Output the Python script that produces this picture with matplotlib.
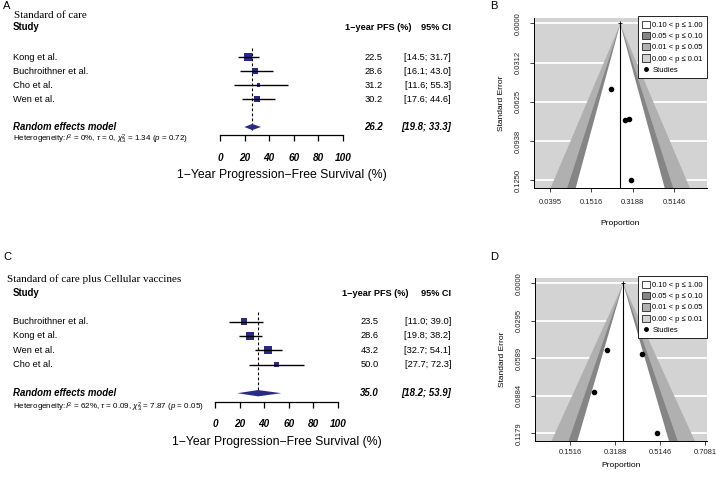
#!/usr/bin/env python
"""
Forest plots and contour-enhanced funnel plots of 1-year PFS.
"""

import numpy as np
import matplotlib
matplotlib.use("Agg")
import matplotlib.pyplot as plt
from matplotlib import transforms
from matplotlib.patches import Patch, Polygon
from matplotlib.lines import Line2D

plt.rcParams["font.family"] = ["Liberation Sans Narrow", "Liberation Sans", "DejaVu Sans"]
plt.rcParams["mathtext.fontset"] = "custom"
plt.rcParams["mathtext.rm"] = "Liberation Sans"
plt.rcParams["mathtext.it"] = "Liberation Sans:italic"
plt.rcParams["mathtext.bf"] = "Liberation Sans:bold"

# Standard of care (panels A and B)
soc_studies = ["Kong et al.", "Buchroithner et al.", "Cho et al.", "Wen et al."]
soc_pfs = [22.5, 28.6, 31.2, 30.2]
soc_lo = [14.5, 16.1, 11.6, 17.6]
soc_hi = [31.7, 43.0, 55.3, 44.6]
soc_se = [0.0525, 0.0772, 0.1250, 0.0762]
soc_pooled = [26.2, 19.8, 33.3]
soc_tau = 0.0
soc_het = r"Heterogeneity:$I^2$ = 0%, $\tau$ = 0, $\chi^2_3$ = 1.34 ($p$ = 0.72)"
soc_xticks = ["0.0395", "0.1516", "0.3188", "0.5146"]
soc_yticks = ["0.0000", "0.0312", "0.0625", "0.0938", "0.1250"]

# Standard of care plus cellular vaccines (panels C and D)
vac_studies = ["Buchroithner et al.", "Kong et al.", "Wen et al.", "Cho et al."]
vac_pfs = [23.5, 28.6, 43.2, 50.0]
vac_lo = [11.0, 19.8, 32.7, 27.7]
vac_hi = [39.0, 38.2, 54.1, 72.3]
vac_se = [0.0856, 0.0522, 0.0553, 0.1179]
vac_pooled = [35.0, 18.2, 53.9]
vac_tau = 0.09
vac_het = r"Heterogeneity:$I^2$ = 62%, $\tau$ = 0.09, $\chi^2_3$ = 7.87 ($p$ = 0.05)"
vac_xticks = ["0.1516", "0.3188", "0.5146", "0.7081"]
vac_yticks = ["0.0000", "0.0295", "0.0589", "0.0884", "0.1179"]

forest_ticks = [0, 20, 40, 60, 80, 100]
contour_z = [1.645, 1.96, 2.576]
contour_labels = ["0.10 < p ≤ 1.00", "0.05 < p ≤ 0.10", "0.01 < p ≤ 0.05", "0.00 < p ≤ 0.01"]

W, H = 716, 482
NAVY = "#2a2a86"
BAND = ["white", "#858585", "#b0b0b0", "#d3d3d3"]


def rect(left, top, right, bottom):
    return [left / W, 1 - bottom / H, (right - left) / W, (bottom - top) / H]


def ftext(fig, x, y, s, **kw):
    fig.text(x / W, 1 - y / H, s, va="center", **kw)


def forest(fig, letter, title, studies, pfs, lo, hi, se, pooled, tau, het, lay):
    row0, step = lay["row0"], lay["step"]
    top, bottom = row0 - 0.9 * step, row0 + 5.6 * step
    ax = fig.add_axes(rect(lay["x0"], top, lay["x1"], bottom))
    ax.set_xlim(0, 100)
    ax.set_ylim(5.6, -0.9)
    ax.patch.set_visible(False)
    for side in ["left", "top", "right"]:
        ax.spines[side].set_visible(False)
    ax.spines["bottom"].set_linewidth(0.9)
    ax.set_yticks([])
    ax.set_xticks(forest_ticks)
    ax.set_xticklabels([str(t) for t in forest_ticks], fontweight="bold", fontstyle="italic")
    ax.tick_params(axis="x", length=4.5, width=0.9, pad=8, labelsize=7.2)

    rows = np.arange(len(studies))
    prow = len(studies) + 1
    w = 1 / (np.array(se) ** 2 + tau ** 2)
    side = 8 * np.sqrt(w / w.max()) * 0.72

    ax.plot([pooled[0], pooled[0]], [-0.65, 5.2], color="black", lw=0.8, ls=(0, (2.5, 2)))
    ax.scatter(pfs, rows, marker="s", s=side ** 2, color=NAVY, lw=0, zorder=3)
    ax.hlines(rows, lo, hi, color="black", lw=1.0, zorder=4)
    dh = 0.22
    ax.add_patch(Polygon([[pooled[1], prow], [pooled[0], prow - dh], [pooled[2], prow],
                          [pooled[0], prow + dh]], closed=True, color=NAVY, lw=0, zorder=3))

    tr = transforms.blended_transform_factory(fig.transFigure, ax.transData)
    fs = 6.7
    for r, name, v, l, h in zip(rows, studies, pfs, lo, hi):
        fig.text(13 / W, r, name, transform=tr, va="center", fontsize=fs)
        fig.text(lay["pfs_r"] / W, r, f"{v:.1f}", transform=tr, va="center", ha="right", fontsize=fs)
        fig.text(lay["ci_r"] / W, r, f"[{l:.1f}; {h:.1f}]", transform=tr, va="center", ha="right",
                 fontsize=fs)
    bi = dict(fontweight="bold", fontstyle="italic", fontsize=6.9)
    fig.text(13 / W, prow, "Random effects model", transform=tr, va="center", **bi)
    fig.text(lay["pfs_r"] / W, prow, f"{pooled[0]:.1f}", transform=tr, va="center", ha="right", **bi)
    fig.text(lay["ci_r"] / W, prow, f"[{pooled[1]:.1f}; {pooled[2]:.1f}]", transform=tr,
             va="center", ha="right", **bi)

    ftext(fig, 3, lay["letter_y"], letter, fontsize=8)
    ftext(fig, lay["title_x"], lay["title_y"], title, fontsize=8, family="Liberation Serif")
    ftext(fig, 13, lay["head_y"], "Study", fontsize=6.9, fontweight="bold")
    ftext(fig, lay["pfs_c"], lay["head_y"], "1\u2212year PFS (%)", fontsize=6.6, fontweight="bold",
          ha="center")
    ftext(fig, lay["ci_r"], lay["head_y"], "95% CI", fontsize=6.6, fontweight="bold", ha="right")
    ftext(fig, 13, lay["het_y"], het, fontsize=5.8)
    ftext(fig, (lay["x0"] + lay["x1"]) / 2, lay["label_y"],
          "1\u2212Year Progression\u2212Free Survival (%)", fontsize=8.8, ha="center")


def funnel(fig, letter, pfs, se, pooled, xticks, yticks, xlim, box, letter_y, xpad, labpad):
    ax = fig.add_axes(rect(*box))
    x = np.arcsin(np.sqrt(np.array(pfs) / 100))
    c = np.arcsin(np.sqrt(pooled[0] / 100))
    se_max = float(yticks[-1])
    ybot = se_max * 1.05
    ax.set_xlim(xlim)
    ax.set_ylim(ybot, -se_max * 0.035)
    ax.set_facecolor(BAND[3])
    ax.set_axisbelow(True)
    ax.grid(axis="y", color="white", lw=1.3)

    yy = np.array([0, ybot])
    for z, col in zip(contour_z[::-1], BAND[2::-1]):
        ax.fill_betweenx(yy, c - z * yy, c + z * yy, color=col, lw=0, zorder=1)
    ax.plot([c, c], [0, ybot], color="black", lw=0.8, zorder=2)
    ax.plot([c], [0], marker="+", color="black", ms=3, mew=0.6, zorder=2)
    ax.scatter(x, se, s=9, color="black", zorder=3)

    ax.set_xticks(np.arcsin(np.sqrt([float(t) for t in xticks])))
    ax.set_xticklabels(xticks)
    ax.set_yticks([float(t) for t in yticks])
    ax.set_yticklabels(yticks, rotation=90, va="center")
    ax.tick_params(labelsize=5.5, length=3, width=0.6, colors="#222222")
    ax.tick_params(axis="x", pad=xpad)
    ax.tick_params(axis="y", pad=6)
    for side in ["top", "right"]:
        ax.spines[side].set_visible(False)
    for side in ["left", "bottom"]:
        ax.spines[side].set_linewidth(0.7)
    ax.set_xlabel("Proportion", fontsize=6, labelpad=labpad)
    ax.set_ylabel("Standard Error", fontsize=6, labelpad=7)

    handles = [Patch(facecolor=col, edgecolor="black", lw=0.5) for col in BAND]
    handles.append(Line2D([], [], marker="o", ls="", color="black", markersize=2.5))
    leg = ax.legend(handles, contour_labels + ["Studies"], loc="upper right", bbox_to_anchor=(1, 1.01),
                    borderaxespad=0, fontsize=5.5, fancybox=False, framealpha=1, edgecolor="black",
                    handlelength=1.0, handleheight=1.1, labelspacing=0.4, borderpad=0.55,
                    handletextpad=0.35)
    leg.get_frame().set_linewidth(0.6)
    ftext(fig, 490, letter_y, letter, fontsize=8)


fig = plt.figure(figsize=(W / 100, H / 100), dpi=100)

forest(fig, "A", "Standard of care", soc_studies, soc_pfs, soc_lo, soc_hi, soc_se, soc_pooled,
       soc_tau, soc_het,
       dict(row0=57, step=14, x0=220, x1=343, pfs_r=383, pfs_c=378, ci_r=451, letter_y=6,
            title_x=14, title_y=15, head_y=27, het_y=139, label_y=175))
forest(fig, "C", "Standard of care plus Cellular vaccines", vac_studies, vac_pfs, vac_lo, vac_hi,
       vac_se, vac_pooled, vac_tau, vac_het,
       dict(row0=321.7, step=14.3, x0=215, x1=338, pfs_r=379, pfs_c=375, ci_r=451, letter_y=257,
            title_x=7, title_y=279, head_y=293, het_y=407.5, label_y=442))

funnel(fig, "B", soc_pfs, soc_se, soc_pooled, soc_xticks, soc_yticks, (0.1226, 0.9597),
       (534, 18, 707, 188), 6, 5, 10)
funnel(fig, "D", vac_pfs, vac_se, vac_pooled, vac_xticks, vac_yticks, (0.2444, 1.007),
       (535, 278, 707, 441), 257, 3, 4)

fig.savefig("out.png", dpi=100)
